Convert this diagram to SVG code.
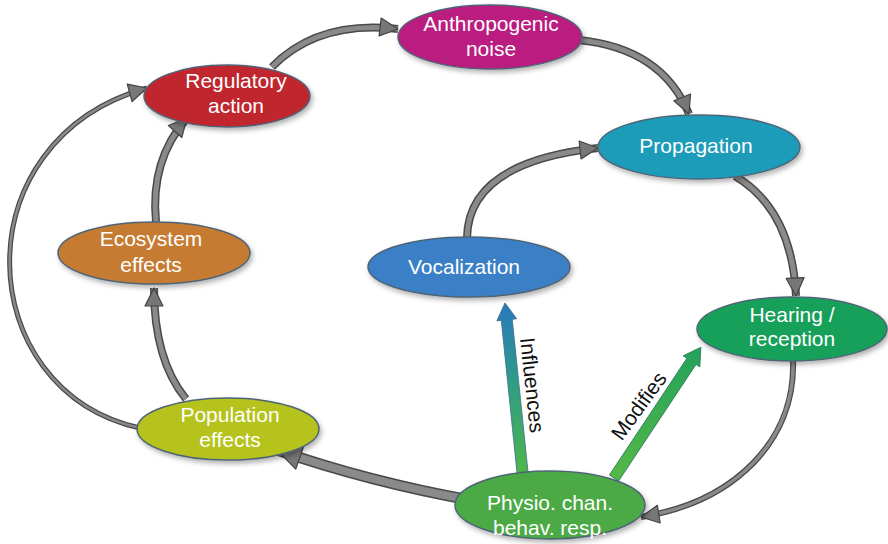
<svg xmlns="http://www.w3.org/2000/svg" width="888" height="544" viewBox="0 0 888 544">
<defs>
<style>
.node ellipse{stroke:#4f6477;stroke-width:1.5;filter:url(#sh)}
.node text{font-family:"Liberation Sans",Arial,sans-serif;font-size:21px;fill:#fff;text-anchor:middle}
.lbl{font-family:"Liberation Sans",Arial,sans-serif;font-size:21px;fill:#111;text-anchor:middle}
.co{fill:none;stroke:#4a4a4a;stroke-linecap:butt}
.ci{fill:none;stroke:#8a8a8a;stroke-linecap:butt}
</style>
<filter id="sh" x="-20%" y="-30%" width="140%" height="170%">
<feDropShadow dx="2" dy="3" stdDeviation="2.5" flood-color="#000" flood-opacity="0.3"/>
</filter>
<marker id="ah" markerUnits="userSpaceOnUse" markerWidth="24" markerHeight="24" viewBox="0 0 24 24" refX="21" refY="12" orient="auto">
<polygon points="3,3 21,12 3,21" fill="#777" stroke="#444" stroke-width="1.2" stroke-linejoin="round"/>
</marker>
<marker id="ahb" markerUnits="userSpaceOnUse" markerWidth="30" markerHeight="30" viewBox="0 0 30 30" refX="27" refY="15" orient="auto">
<polygon points="3,3 27,15 3,27" fill="#777" stroke="#444" stroke-width="1.2" stroke-linejoin="round"/>
</marker>
<linearGradient id="gInf" gradientUnits="userSpaceOnUse" x1="0" y1="0" x2="175" y2="0">
<stop offset="0" stop-color="#4fb848"/>
<stop offset="0.55" stop-color="#2f9c86"/>
<stop offset="1" stop-color="#2878be"/>
</linearGradient>
<linearGradient id="gMod" gradientUnits="userSpaceOnUse" x1="0" y1="0" x2="157" y2="0">
<stop offset="0" stop-color="#55b848"/>
<stop offset="1" stop-color="#22a25a"/>
</linearGradient>
</defs>
<rect width="888" height="544" fill="#fff"/>

<g id="connectors">
<!-- Regulatory -> Anthropogenic -->
<path class="co" stroke-width="8" d="M 272 67 Q 318 20 398 29"/>
<path class="ci" stroke-width="5" d="M 272 67 Q 318 20 398 29" marker-end="url(#ah)"/>
<!-- Anthropogenic -> Propagation -->
<path class="co" stroke-width="8" d="M 578 40 Q 662 48 689 114"/>
<path class="ci" stroke-width="5" d="M 578 40 Q 662 48 689 114" marker-end="url(#ah)"/>
<!-- Propagation -> Hearing -->
<path class="co" stroke-width="8" d="M 735 176 Q 792 210 796 296"/>
<path class="ci" stroke-width="5" d="M 735 176 Q 792 210 796 296" marker-end="url(#ah)"/>
<!-- Hearing -> Physio -->
<path class="co" stroke-width="6" d="M 793 360 C 796 440 735 502 641 517"/>
<path class="ci" stroke-width="3.5" d="M 793 360 C 796 440 735 502 641 517" marker-end="url(#ah)"/>
<!-- Physio -> Population -->
<path class="co" stroke-width="11" d="M 470 500 Q 370 482 277 450"/>
<path class="ci" stroke-width="8" d="M 470 500 Q 370 482 277 450" marker-end="url(#ahb)"/>
<!-- Population -> Ecosystem -->
<path class="co" stroke-width="8" d="M 186 399 Q 154 360 154 288"/>
<path class="ci" stroke-width="5" d="M 186 399 Q 154 360 154 288" marker-end="url(#ah)"/>
<!-- Ecosystem -> Regulatory -->
<path class="co" stroke-width="8" d="M 156 222 Q 150 160 187 118"/>
<path class="ci" stroke-width="5" d="M 156 222 Q 150 160 187 118" marker-end="url(#ah)"/>
<!-- Population -> Regulatory (outer arc) -->
<path class="co" stroke-width="5" d="M 140 428 C -30 390 -40 140 147 88"/>
<path class="ci" stroke-width="2.5" d="M 140 428 C -30 390 -40 140 147 88" marker-end="url(#ah)"/>
<!-- Vocalization -> Propagation -->
<path class="co" stroke-width="8" d="M 467 238 Q 468 162 598 148"/>
<path class="ci" stroke-width="5" d="M 467 238 Q 468 162 598 148" marker-end="url(#ah)"/>
<!-- Influences arrow -->
<g transform="translate(523,477) rotate(-95.9)">
<polygon points="0,-5.5 158,-5.5 158,-10 175,0 158,10 158,5.5 0,5.5" fill="url(#gInf)" stroke="#3d6f8a" stroke-width="0.8" stroke-linejoin="round"/>
</g>
<!-- Modifies arrow -->
<g transform="translate(614,478) rotate(-56.4)">
<polygon points="0,-5.5 140,-5.5 140,-10 157,0 140,10 140,5.5 0,5.5" fill="url(#gMod)" stroke="#2f7a5a" stroke-width="0.8" stroke-linejoin="round"/>
</g>
<text class="lbl" transform="translate(532,385) rotate(84)" x="0" y="7">Influences</text>
<text class="lbl" transform="translate(639,406) rotate(-54)" x="0" y="7">Modifies</text>
</g>

<g id="anthropogenic" class="node">
<ellipse cx="490" cy="37" rx="92" ry="32" fill="#bb1a80"/>
<text x="491" y="31">Anthropogenic</text>
<text x="491" y="56">noise</text>
</g>
<g id="regulatory" class="node">
<ellipse cx="227" cy="96" rx="83" ry="31" fill="#c0272d"/>
<text x="236" y="88">Regulatory</text>
<text x="236" y="113">action</text>
</g>
<g id="ecosystem" class="node">
<ellipse cx="154" cy="253" rx="96" ry="31" fill="#c57b30"/>
<text x="151" y="246">Ecosystem</text>
<text x="151" y="272">effects</text>
</g>
<g id="population" class="node">
<ellipse cx="228" cy="429" rx="91" ry="31" fill="#b5c31f"/>
<text x="230" y="422">Population</text>
<text x="230" y="447">effects</text>
</g>
<g id="physio" class="node">
<ellipse cx="550" cy="505" rx="95" ry="34" fill="#4caa44"/>
<text x="550" y="510">Physio. chan.</text>
<text x="550" y="535">behav. resp.</text>
</g>
<g id="propagation" class="node">
<ellipse cx="699" cy="147" rx="101" ry="32" fill="#1a9cb9"/>
<text x="696" y="153">Propagation</text>
</g>
<g id="hearing" class="node">
<ellipse cx="792" cy="329" rx="95" ry="32" fill="#16a05a"/>
<text x="792" y="322">Hearing /</text>
<text x="792" y="346">reception</text>
</g>
<g id="vocalization" class="node">
<ellipse cx="469" cy="267" rx="101" ry="30" fill="#3a80c6"/>
<text x="464" y="274">Vocalization</text>
</g>
</svg>
